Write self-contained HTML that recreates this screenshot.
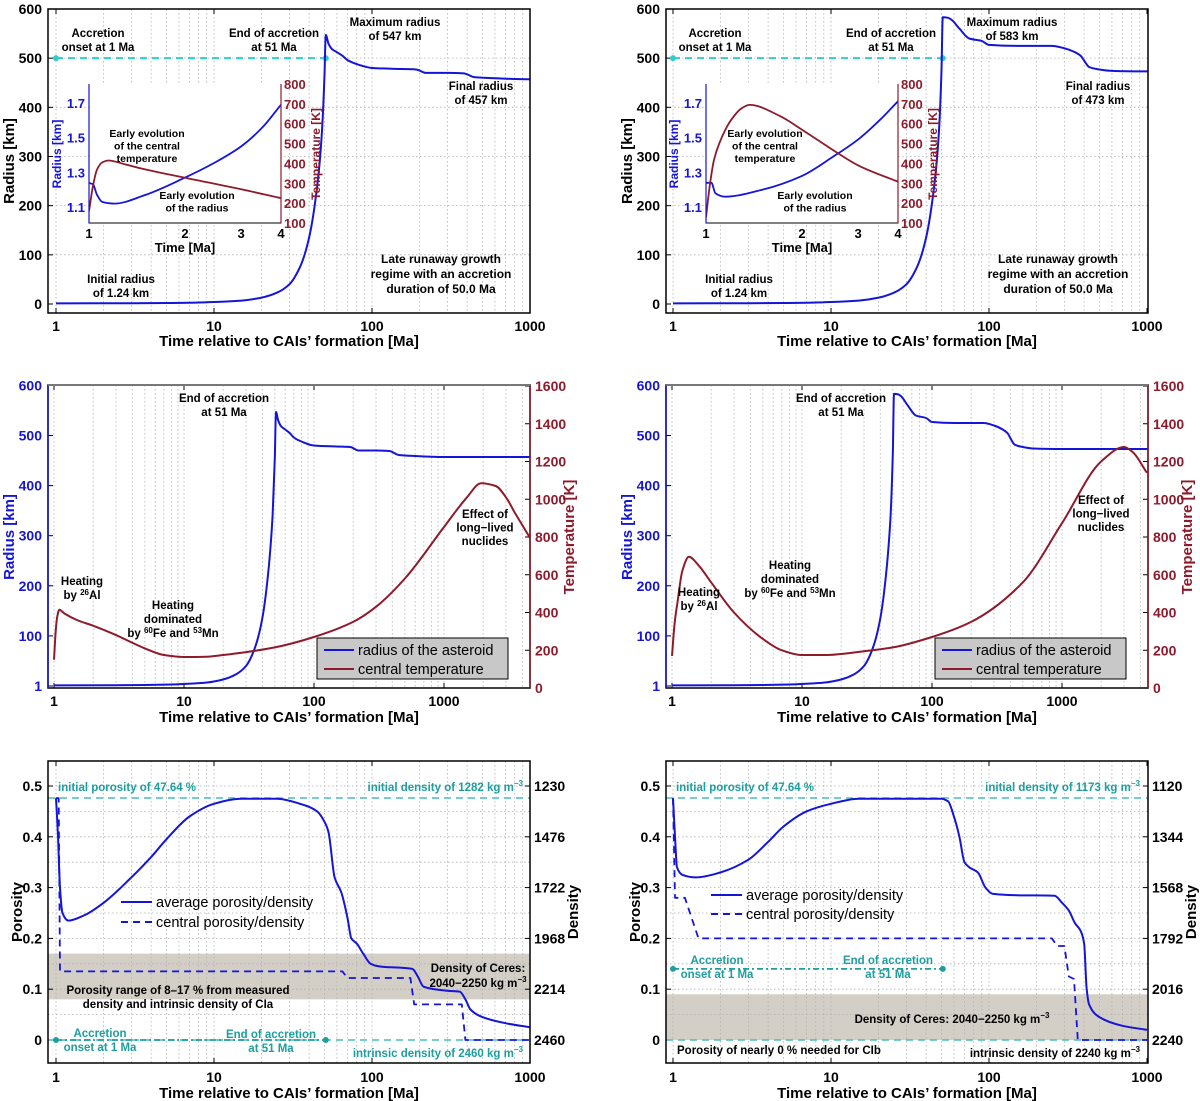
<!DOCTYPE html>
<html><head><meta charset="utf-8"><title>Asteroid evolution</title>
<style>
html,body{margin:0;padding:0;background:#fff;}
svg{display:block;font-family:"Liberation Sans",Arial,sans-serif;font-weight:bold;}
</style></head>
<body>
<svg id="fig" width="1200" height="1101" viewBox="0 0 1200 1101" xmlns="http://www.w3.org/2000/svg"></svg>
<script>
// ---------- DATA ----------
const tlRadT=[1,3,5,8,10,15,20,25,30,35,40,45,48,50,51,53,56,60,65,70,80,100,150,190,220,300,380,450,600,1000,4590];
const tlRadV=[1.24,1.6,2,3,4,7,13,23,40,75,135,240,340,460,547,530,518,512,505,496,488,480,478,477,470,470,469,461,459,457,457];
const trRadT=[1,3,5,8,10,15,20,25,30,35,40,45,48,50,51,55,58,65,75,90,100,150,250,300,350,380,410,430,500,600,1000,4590];
const trRadV=[1.24,1.6,2,3,4,7,13,23,40,75,135,240,340,470,583,582,578,560,540,535,527,525,525,520,512,505,490,482,477,474,473,473];
const inLRadT=[1,1.03,1.06,1.1,1.2,1.5,2,2.5,3,3.5,4];
const inLRadV=[1.24,1.23,1.17,1.13,1.12,1.17,1.27,1.36,1.45,1.56,1.69];
const inLTmpT=[1,1.03,1.06,1.1,1.15,1.3,1.5,2,3,4];
const inLTmpV=[160,290,370,405,415,395,370,328,270,225];
const inRRadT=[1,1.04,1.07,1.15,1.5,2,2.5,3,3.5,4];
const inRRadV=[1.24,1.24,1.18,1.16,1.2,1.28,1.39,1.49,1.6,1.71];
const inRTmpT=[1,1.03,1.06,1.1,1.2,1.3,1.37,1.7,2,2.6,3,4];
const inRTmpV=[130,300,420,500,620,680,695,640,570,450,390,308];
const mlTmpT=[1,1.03,1.06,1.1,1.2,1.5,2,3,5,7,10,15,20,30,50,100,200,300,500,1000,1500,1930,2500,3000,3500,4590];
const mlTmpV=[150,300,380,415,395,360,330,280,210,175,164,166,175,190,215,270,350,430,580,853,1010,1085,1070,1010,930,795];
const mrTmpT=[1,1.05,1.1,1.2,1.35,1.6,2,3,5,7,10,15,30,50,100,200,500,1000,2000,3000,3500,4500];
const mrTmpV=[170,350,450,620,695,650,560,400,260,200,175,175,195,215,270,350,560,873,1200,1277,1250,1140];
const blAvgT=[1,1.03,1.06,1.1,1.2,1.5,2,3,4,5,7,10,15,25,35,45,50,53,58,64,70,74,80,88,98,110,180,195,212,300,360,390,420,500,700,1000];
const blAvgV=[0.476,0.4,0.3,0.25,0.235,0.245,0.27,0.32,0.36,0.395,0.44,0.465,0.475,0.475,0.465,0.45,0.43,0.41,0.32,0.29,0.24,0.2,0.19,0.17,0.15,0.145,0.14,0.125,0.105,0.097,0.095,0.08,0.06,0.045,0.033,0.025];
const blCenT=[1,1.04,1.06,65,70,175,185,370,390,1000];
const blCenV=[0.476,0.476,0.135,0.135,0.122,0.122,0.07,0.07,0,0];
const brAvgT=[1,1.03,1.06,1.15,1.4,2,3,4,5,7,10,15,50,55,60,65,70,75,85,95,105,150,260,290,320,350,380,400,415,430,500,700,1000];
const brAvgV=[0.476,0.4,0.34,0.325,0.32,0.33,0.355,0.39,0.42,0.45,0.465,0.475,0.475,0.47,0.44,0.4,0.35,0.34,0.33,0.3,0.288,0.285,0.284,0.27,0.255,0.23,0.215,0.19,0.1,0.07,0.045,0.028,0.02];
const brCenT=[1,1.03,1.19,1.45,250,270,300,320,345,365,1000];
const brCenV=[0.476,0.28,0.28,0.2,0.2,0.185,0.185,0.125,0.12,0,0];
const radTicks=[0,100,200,300,400,500,600];
const midRadLabels=['1','100','200','300','400','500','600'];
const tempTicks=[0,200,400,600,800,1000,1200,1400,1600];
const porTicks=[0,0.1,0.2,0.3,0.4,0.5];
const blDensLabels=['2460','2214','1968','1722','1476','1230'];
const brDensLabels=['2240','2016','1792','1568','1344','1120'];
const inRadTicks=[1.1,1.3,1.5,1.7];
const inTmpTicks=[100,200,300,400,500,600,700,800];
const inTimeTicks=[1,2,3,4];

// ---------- HELPERS ----------
const NS='http://www.w3.org/2000/svg';
const svg=document.getElementById('fig');
const BLUE='#1515d8', RED='#8e1b2c', CYAN='#33cccc', TEAL='#1e9e9e';
function add(parent,tag,attrs,txt){const e=document.createElementNS(NS,tag);for(const k in attrs)e.setAttribute(k,attrs[k]);if(txt!==undefined)e.textContent=txt;parent.appendChild(e);return e;}
function txt(parent,x,y,s,size,fill,anchor,name,extra){
  const e=add(parent,'text',Object.assign({x:x,y:y,'font-size':size,fill:fill||'#000','text-anchor':anchor||'middle'},extra||{}),s);
  
  
  return e;}
function mline(lines,x,y,size,fill,anchor,name,lh){lines.forEach((s,i)=>txt(svg,x,y+i*(lh||14),s,size,fill,anchor,name));}
function monoPath(xs,ys){
  const n=xs.length;if(n<3){let d='';for(let i=0;i<n;i++)d+=(i?'L':'M')+xs[i].toFixed(1)+','+ys[i].toFixed(1);return d;}
  const dx=[],m=[],t=new Array(n);
  for(let i=0;i<n-1;i++){dx[i]=Math.max(xs[i+1]-xs[i],1e-6);m[i]=(ys[i+1]-ys[i])/dx[i];}
  t[0]=m[0];t[n-1]=m[n-2];
  for(let i=1;i<n-1;i++){if(m[i-1]*m[i]<=0)t[i]=0;else{const w1=2*dx[i]+dx[i-1],w2=dx[i]+2*dx[i-1];t[i]=(w1+w2)/(w1/m[i-1]+w2/m[i]);}}
  let d='M'+xs[0].toFixed(1)+','+ys[0].toFixed(1);
  for(let i=0;i<n-1;i++){const h=dx[i]/3;d+='C'+(xs[i]+h).toFixed(1)+','+(ys[i]+t[i]*h).toFixed(1)+' '+(xs[i+1]-h).toFixed(1)+','+(ys[i+1]-t[i+1]*h).toFixed(1)+' '+xs[i+1].toFixed(1)+','+ys[i+1].toFixed(1);}
  return d;}
let clipN=0;
function panel(P,name){
  const g=add(svg,'g',{});
  
  
  P.g=g;
  P.X=t=>P.x1+Math.log10(t)*P.dec;
  const id='c'+(clipN++);
  const cp=add(svg,'clipPath',{id:id});add(cp,'rect',{x:P.L,y:P.T,width:P.R-P.L,height:P.B-P.T});
  P.clip='url(#'+id+')';
  const grid=add(g,'g',{stroke:'#b0b0b0','stroke-width':0.8,'stroke-dasharray':'1.5,2.5'});
  
  
  P.grid=grid;
  for(let d=-1;d<5;d++)for(let m=1;m<10;m++){const t=m*Math.pow(10,d);const x=P.X(t);if(x>P.L+1&&x<P.R-1)add(grid,'line',{x1:x,x2:x,y1:P.T,y2:P.B});}
  (P.hgrid||[]).forEach(v=>{const y=P.Yg(v);if(y>P.T+1&&y<P.B-1)add(grid,'line',{x1:P.L,x2:P.R,y1:y,y2:y});});
  return P;}
function frame(P){const r=add(P.g,'rect',{x:P.L,y:P.T,width:P.R-P.L,height:P.B-P.T,fill:'none',stroke:'#000','stroke-width':1.5});
  
  }
function xticks(P,labels,y){labels.forEach(t=>{const x=P.X(t);add(P.g,'line',{x1:x,x2:x,y1:P.B,y2:P.B-5,stroke:'#000'});add(P.g,'line',{x1:x,x2:x,y1:P.T,y2:P.T+5,stroke:'#000'});txt(P.g,x,y,String(t),14,'#000','middle','x-tick-label');});}
function series(P,T,V,Yf,color,w,dash,name,smooth){
  const xs=T.map(t=>P.X(t)),ys=V.map(v=>Yf(v));
  let d;
  if(smooth)d=monoPath(xs,ys);else{d='';xs.forEach((x,i)=>{d+=(i?'L':'M')+x.toFixed(1)+','+ys[i].toFixed(1);});}
  const a={d:d,fill:'none',stroke:color,'stroke-width':w,'stroke-linejoin':'round','clip-path':P.clip};if(dash)a['stroke-dasharray']=dash;
  const p=add(P.g,'path',a);
  
  
  return p;}

// ---------- TOP PANELS ----------
function topPanel(off,radT,radV,inRT,inRV,inTT,inTV,side){
  const P=panel({L:48+off,R:530+off,T:9,B:313,x1:56+(off?617:0),dec:158},side+'-radius-panel');
  const Y=v=>304-v*0.4917;P.Yg=Y;
  radTicks.forEach(v=>{if(v>0&&v<600)add(P.grid,'line',{x1:P.L,x2:P.R,y1:Y(v),y2:Y(v)});});
  radTicks.forEach(v=>{txt(P.g,P.L-6,Y(v)+5,String(v),14,'#000','end','y-tick-label');add(P.g,'line',{x1:P.L,x2:P.L+5,y1:Y(v),y2:Y(v),stroke:'#000'});});
  xticks(P,[1,10,100,1000],331);
  const ac=add(P.g,'line',{x1:P.X(1),x2:P.X(51),y1:Y(500),y2:Y(500),stroke:CYAN,'stroke-width':2,'stroke-dasharray':'7,5'});
  
  
  [1,51].forEach(t=>{const c=add(P.g,'circle',{cx:P.X(t),cy:Y(500),r:3,fill:CYAN});});
  series(P,radT,radV,Y,BLUE,2,null,'radius-line',true);
  frame(P);
  txt(svg,P.L-34,(P.T+P.B)/2,'Radius [km]',15,'#000','middle','y-axis-title',{transform:'rotate(-90 '+(P.L-34)+' '+(P.T+P.B)/2+')'});
  txt(svg,(P.L+P.R)/2,346,'Time relative to CAIs\u2019 formation [Ma]',15,'#000','middle','x-axis-title');
  const iL=89+(off?617:0),iR=iL+192,iT=84,iB=223;
  const I={L:iL,R:iR,T:iT,B:iB,x1:iL,dec:192/Math.log10(4)};
  const ig=add(svg,'g',{});
  
  
  I.g=ig;I.X=t=>I.x1+Math.log10(t)*I.dec;
  add(ig,'rect',{x:iL,y:iT,width:192,height:139,fill:'#fff'});
  const id='c'+(clipN++);const cp=add(svg,'clipPath',{id:id});add(cp,'rect',{x:iL,y:iT,width:192,height:139});I.clip='url(#'+id+')';
  const YR=r=>103+(1.7-r)*173.5, YT=T=>84+(800-T)*0.1986;
  series(I,inRT,inRV,YR,BLUE,1.8,null,'inset-radius-line',true);
  series(I,inTT,inTV,YT,RED,1.8,null,'inset-temperature-line',true);
  const fr=add(ig,'path',{d:`M${iL},${iT}V${iB}H${iR}V${iT}`,fill:'none',stroke:'#000','stroke-width':1});
  
  
  add(ig,'line',{x1:iL,x2:iL,y1:iT,y2:iB,stroke:BLUE,'stroke-width':1.2});
  add(ig,'line',{x1:iR,x2:iR,y1:iT,y2:iB,stroke:RED,'stroke-width':1.2});
  inRadTicks.forEach(v=>txt(ig,iL-4,YR(v)+5,v.toFixed(1),13,BLUE,'end','inset-radius-tick'));
  inTmpTicks.forEach(v=>txt(ig,iR+3,YT(v)+5,String(v),13,RED,'start','inset-temperature-tick'));
  inTimeTicks.forEach(t=>txt(ig,I.X(t),238,String(t),13,'#000','middle','inset-time-tick'));
  txt(ig,I.X(2),252,'Time [Ma]',13,'#000','middle','inset-x-title');
  txt(ig,iL-28,154,'Radius [km]',12,BLUE,'middle','inset-radius-title',{transform:`rotate(-90 ${iL-28} 154)`});
  txt(ig,iR+39,154,'Temperature [K]',12,RED,'middle','inset-temperature-title',{transform:`rotate(-90 ${iR+39} 154)`});
  return P;}

topPanel(0,tlRadT,tlRadV,inLRadT,inLRadV,inLTmpT,inLTmpV,'top-left');
topPanel(618,trRadT,trRadV,inRRadT,inRRadV,inRTmpT,inRTmpV,'top-right');
mline(['Accretion','onset at 1 Ma'],98,37,11.5,'#000','middle','annotation-accretion-onset');
mline(['End of accretion','at 51 Ma'],274,37,11.5,'#000','middle','annotation-end-accretion');
mline(['Maximum radius','of 547 km'],395,26,11.5,'#000','middle','annotation-max-radius');
mline(['Final radius','of 457 km'],481,90,11.5,'#000','middle','annotation-final-radius');
mline(['Late runaway growth','regime with an accretion','duration of 50.0 Ma'],441,263,12,'#000','middle','annotation-regime',15);
mline(['Initial radius','of 1.24 km'],121,283,11.5,'#000','middle','annotation-initial-radius');
mline(['Early evolution','of the central','temperature'],147,137,10.5,'#000','middle','inset-annotation-temperature',12.5);
mline(['Early evolution','of the radius'],197,199,10.5,'#000','middle','inset-annotation-radius',12.5);
mline(['Accretion','onset at 1 Ma'],715,37,11.5,'#000','middle','annotation-accretion-onset');
mline(['End of accretion','at 51 Ma'],891,37,11.5,'#000','middle','annotation-end-accretion');
mline(['Maximum radius','of 583 km'],1012,26,11.5,'#000','middle','annotation-max-radius');
mline(['Final radius','of 473 km'],1098,90,11.5,'#000','middle','annotation-final-radius');
mline(['Late runaway growth','regime with an accretion','duration of 50.0 Ma'],1058,263,12,'#000','middle','annotation-regime',15);
mline(['Initial radius','of 1.24 km'],739,283,11.5,'#000','middle','annotation-initial-radius');
mline(['Early evolution','of the central','temperature'],765,137,10.5,'#000','middle','inset-annotation-temperature',12.5);
mline(['Early evolution','of the radius'],815,199,10.5,'#000','middle','inset-annotation-radius',12.5);

// ---------- MIDDLE PANELS ----------
function midPanel(off,x1,radT,radV,tmpT,tmpV,side){
  const P=panel({L:48+off,R:530+off,T:385,B:688,x1:x1,dec:130},side+'-radius-temperature-panel');
  const YR=v=>686-v*0.501, YT=T=>688-T*0.18875;
  radTicks.forEach((v,i)=>{txt(P.g,P.L-6,YR(v)+5,midRadLabels[i],14,BLUE,'end','left-y-tick-label');add(P.g,'line',{x1:P.L,x2:P.L+5,y1:YR(v),y2:YR(v),stroke:'#000'});});
  tempTicks.forEach(v=>{txt(P.g,P.R+5,YT(v)+5,String(v),14,RED,'start','right-y-tick-label');add(P.g,'line',{x1:P.R-5,x2:P.R,y1:YT(v),y2:YT(v),stroke:'#000'});});
  xticks(P,[1,10,100,1000],706);
  series(P,radT,radV,YR,BLUE,2,null,'radius-line',true);
  series(P,tmpT,tmpV,YT,RED,2,null,'temperature-line',true);
  const r=add(P.g,'rect',{x:P.L,y:P.T,width:P.R-P.L,height:P.B-P.T,fill:'none',stroke:'#000','stroke-width':1.5});
  
  
  add(P.g,'line',{x1:P.L,x2:P.L,y1:P.T,y2:P.B,stroke:BLUE,'stroke-width':1.5});
  add(P.g,'line',{x1:P.R,x2:P.R,y1:P.T,y2:P.B,stroke:RED,'stroke-width':1.5});
  add(P.g,'line',{x1:P.L,x2:P.R,y1:P.T,y2:P.T,stroke:'#777','stroke-width':2});
  txt(svg,P.L-34,537,'Radius [km]',15,BLUE,'middle','left-y-axis-title',{transform:`rotate(-90 ${P.L-34} 537)`});
  txt(svg,P.R+44,537,'Temperature [K]',15,RED,'middle','right-y-axis-title',{transform:`rotate(-90 ${P.R+44} 537)`});
  txt(svg,(P.L+P.R)/2,722,'Time  relative to CAIs\u2019 formation [Ma]',15,'#000','middle','x-axis-title');
  const lx=off?935:317,lw=191;
  const lg=add(svg,'g',{});
  
  
  add(lg,'rect',{x:lx,y:638,width:lw,height:41,fill:'#c8c8c8',stroke:'#000','stroke-width':1});
  add(lg,'line',{x1:lx+7,x2:lx+37,y1:650,y2:650,stroke:BLUE,'stroke-width':2});
  add(lg,'line',{x1:lx+7,x2:lx+37,y1:669,y2:669,stroke:RED,'stroke-width':2});
  txt(lg,lx+41,655,'radius of the asteroid',14.5,'#000','start','legend-entry-radius',{'font-weight':'normal'});
  txt(lg,lx+41,674,'central temperature',14.5,'#000','start','legend-entry-temperature',{'font-weight':'normal'});
}
midPanel(0,54,tlRadT,tlRadV,mlTmpT,mlTmpV,'middle-left');
midPanel(618,672,trRadT,trRadV,mrTmpT,mrTmpV,'middle-right');
function sup(x,y,parts,name){const t=txt(svg,x,y,'',11.5,'#000','middle',name);parts.forEach(p=>{add(t,'tspan',p[1]?{'font-size':8,dy:-4}:{dy:p[2]||0},p[0]);});}
mline(['End of accretion','at 51 Ma'],224,402,11.5,'#000','middle','annotation-end-accretion');
mline(['Heating'],82,585,11.5,'#000','middle','annotation-al-heating');
sup(82,599,[['by '],['26',1],['Al',0,4]],'annotation-al-heating');
mline(['Heating','dominated'],173,609,11.5,'#000','middle','annotation-fe-mn-heating');
sup(173,637,[['by '],['60',1],['Fe and ',0,4],['53',1],['Mn',0,4]],'annotation-fe-mn-heating');
mline(['Effect of','long\u2212lived','nuclides'],485,518,11.5,'#000','middle','annotation-long-lived',13.5);
mline(['End of accretion','at 51 Ma'],841,402,11.5,'#000','middle','annotation-end-accretion');
mline(['Heating'],699,596,11.5,'#000','middle','annotation-al-heating');
sup(699,610,[['by '],['26',1],['Al',0,4]],'annotation-al-heating');
mline(['Heating','dominated'],790,569,11.5,'#000','middle','annotation-fe-mn-heating');
sup(790,597,[['by '],['60',1],['Fe and ',0,4],['53',1],['Mn',0,4]],'annotation-fe-mn-heating');
mline(['Effect of','long\u2212lived','nuclides'],1101,504,11.5,'#000','middle','annotation-long-lived',13.5);

// ---------- BOTTOM PANELS ----------
function botPanel(off,x1,avgT,avgV,cenT,cenV,densLabels,band,accP,side){
  const Y=p=>1040-p*508;
  const P=panel({L:48+off,R:530+off,T:761,B:1063,x1:x1,dec:158,Yg:Y,hgrid:[0.05,0.1,0.15,0.2,0.25,0.3,0.35,0.4,0.45,0.5]},side+'-porosity-panel');
  const b=add(P.g,'rect',{x:P.L,y:Y(band[1]),width:P.R-P.L,height:Y(band[0])-Y(band[1]),fill:'#d3cec6'});
  
  
  P.g.insertBefore(b,P.g.firstChild);
  porTicks.forEach((v,i)=>{txt(P.g,P.L-6,Y(v)+5,v===0?'0':String(v),14,'#000','end','left-y-tick-label');txt(P.g,P.R+4,Y(v)+5,densLabels[i],14,'#000','start','right-y-tick-label');add(P.g,'line',{x1:P.L,x2:P.L+5,y1:Y(v),y2:Y(v),stroke:'#000'});add(P.g,'line',{x1:P.R-5,x2:P.R,y1:Y(v),y2:Y(v),stroke:'#000'});});
  xticks(P,[1,10,100,1000],1082);
  [0.4764,0].forEach(v=>{const l=add(P.g,'line',{x1:P.L,x2:P.R,y1:Y(v),y2:Y(v),stroke:'#4cbcbc','stroke-width':1.5,'stroke-dasharray':'7,5'});});
  const ac=add(P.g,'line',{x1:P.X(1),x2:P.X(51),y1:Y(accP),y2:Y(accP),stroke:TEAL,'stroke-width':1.8,'stroke-dasharray':'6,3,2,3'});
  
  
  [1,51].forEach(t=>{const c=add(P.g,'circle',{cx:P.X(t),cy:Y(accP),r:3,fill:TEAL});});
  series(P,cenT,cenV,Y,BLUE,1.8,'7,5','central-porosity-line',false);
  series(P,avgT,avgV,Y,BLUE,2,null,'average-porosity-line',true);
  frame(P);
  txt(svg,P.L-26,912,'Porosity',15,'#000','middle','left-y-axis-title',{transform:`rotate(-90 ${P.L-26} 912)`});
  txt(svg,P.R+48,912,'Density',15,'#000','middle','right-y-axis-title',{transform:`rotate(-90 ${P.R+48} 912)`});
  txt(svg,(P.L+P.R)/2,1098,'Time relative to CAIs\u2019 formation [Ma]',15,'#000','middle','x-axis-title');
  return P;}
botPanel(0,56,blAvgT,blAvgV,blCenT,blCenV,blDensLabels,[0.08,0.17],0,'bottom-left');
botPanel(618,673,brAvgT,brAvgV,brCenT,brCenV,brDensLabels,[0,0.09],0.14,'bottom-right');
function bleg(x,y1,y2){
  const g=add(svg,'g',{});
  
  
  add(g,'line',{x1:x,x2:x+31,y1:y1,y2:y1,stroke:BLUE,'stroke-width':2});
  add(g,'line',{x1:x,x2:x+31,y1:y2,y2:y2,stroke:BLUE,'stroke-width':2,'stroke-dasharray':'7,5'});
  txt(g,x+35,y1+5,'average porosity/density',14.5,'#000','start','legend-entry-average',{'font-weight':'normal'});
  txt(g,x+35,y2+5,'central porosity/density',14.5,'#000','start','legend-entry-central',{'font-weight':'normal'});}
bleg(121,902,922);
bleg(711,895,914);
function supL(x,y,pre,supTxt,anchor,name,color){const t=txt(svg,x,y,'',11.5,color,anchor,name);add(t,'tspan',{},pre);add(t,'tspan',{'font-size':8,dy:-5},supTxt);}
txt(svg,58,791,'initial porosity of 47.64 %',11.5,TEAL,'start','annotation-initial-porosity');
supL(523,791,'initial density of 1282 kg m','\u22123','end','annotation-initial-density',TEAL);
mline(['Porosity range of 8\u201317 % from measured','density and intrinsic density of CIa'],178,994,11.5,'#000','middle','annotation-porosity-range');
txt(svg,478,972,'Density of Ceres:',11.5,'#000','middle','annotation-ceres-density');
supL(478,987,'2040\u22122250 kg m','\u22123','middle','annotation-ceres-density','#000');
mline(['Accretion','onset at 1 Ma'],100,1037,11.5,TEAL,'middle','annotation-accretion-onset');
mline(['End of accretion','at 51 Ma'],271,1038,11.5,TEAL,'middle','annotation-end-accretion');
supL(523,1057,'intrinsic density of 2460 kg m','\u22123','end','annotation-intrinsic-density',TEAL);
txt(svg,676,791,'initial porosity of 47.64 %',11.5,TEAL,'start','annotation-initial-porosity');
supL(1140,791,'initial density of 1173 kg m','\u22123','end','annotation-initial-density',TEAL);
mline(['Accretion','onset at 1 Ma'],717,964,11.5,TEAL,'middle','annotation-accretion-onset');
mline(['End of accretion','at 51 Ma'],888,964,11.5,TEAL,'middle','annotation-end-accretion');
supL(952,1023,'Density of Ceres: 2040\u22122250 kg m','\u22123','middle','annotation-ceres-density','#000');
txt(svg,677,1054,'Porosity of nearly 0 % needed for CIb',11.5,'#000','start','annotation-porosity-needed');
supL(1140,1057,'intrinsic density of 2240 kg m','\u22123','end','annotation-intrinsic-density','#000');
</script>
</body></html>
